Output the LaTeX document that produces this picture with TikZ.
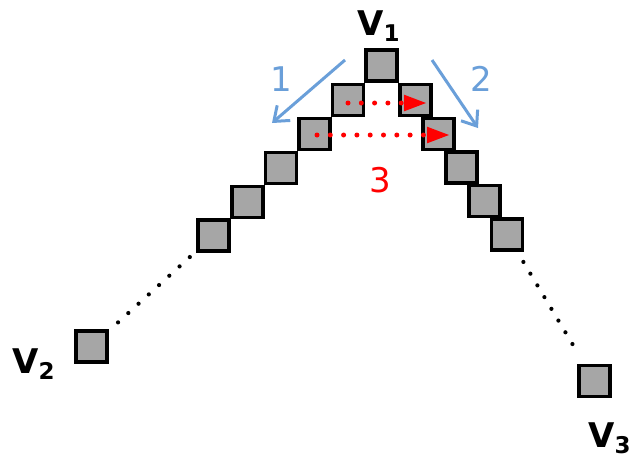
\documentclass[tikz,border=0pt]{standalone}
\usepackage{fontspec}
\setmainfont{DejaVu Sans}
\usetikzlibrary{arrows.meta}
\definecolor{sqgray}{HTML}{A6A6A6}
\definecolor{lblue}{HTML}{6A9FD9}
\definecolor{myred}{HTML}{FF0000}
\tikzset{
  sq/.style={draw=black, line width=3.6pt, fill=sqgray, minimum size=31pt, inner sep=0pt},
  blackdots/.style={line width=4.2pt, line cap=round, dash pattern=on 0pt off #1, black},
  reddots/.style={line width=5pt, line cap=round, dash pattern=on 0pt off 13.3pt, myred, -{Triangle[length=23pt,width=15pt]}},
  bluearrow/.style={line width=3pt, lblue, -{Straight Barb[length=13pt,width=20pt]}},
  numlabel/.style={font=\fontsize{34}{34}\selectfont, inner sep=0pt},
  vlabel/.style={inner sep=0pt, anchor=base west, font=\bfseries}
}
\newcommand{\vlab}[1]{{\fontsize{34}{34}\selectfont V}{\fontsize{23}{23}\selectfont\raisebox{-6pt}{#1}}}
\begin{document}
\begin{tikzpicture}[x=1pt,y=-1pt]
\useasboundingbox (0,0) rectangle (636,459);
% squares
\node[sq] (t)  at (381.5,65.5) {};
\node[sq] (l1) at (348,100) {};
\node[sq] (l2) at (314.5,134) {};
\node[sq] (l3) at (281,168) {};
\node[sq] (l4) at (247.5,202) {};
\node[sq] (l5) at (213.5,235.5) {};
\node[sq] (r1) at (415.5,100) {};
\node[sq] (r2) at (438.5,134) {};
\node[sq] (r3) at (461.5,167.5) {};
\node[sq] (r4) at (484.5,201) {};
\node[sq] (r5) at (507,234.5) {};
\node[sq] (v2) at (91.5,346.5) {};
\node[sq] (v3) at (594.5,381) {};
% labels
\node[vlabel] (lv1) at (357,35) {\vlab{1}};
\node[vlabel] (lv2) at (12,373) {\vlab{2}};
\node[vlabel] (lv3) at (588,447) {\vlab{3}};
% dotted continuation
\draw[blackdots=13.86pt, shorten <=12.5pt, shorten >=8pt] (v2) -- (l5);
\draw[blackdots=13.66pt, shorten <=11.8pt, shorten >=22.4pt] (r5) -- (v3);
% red arrows
\coordinate (a1s) at (348,103);
\coordinate (a1e) at (427,103);
\coordinate (a2s) at (317,135);
\coordinate (a2e) at (450,135);
\draw[reddots] (a1s) -- (a1e);
\draw[reddots] (a2s) -- (a2e);
\node[numlabel, text=myred] (n3) at (380,180) {3};
% blue arrows
\coordinate (b1s) at (345,60);
\coordinate (b1e) at (272,123);
\coordinate (b2s) at (432,60);
\coordinate (b2e) at (478,128);
\draw[bluearrow] (b1s) -- (b1e);
\draw[bluearrow] (b2s) -- (b2e);
\node[numlabel, text=lblue] (n1) at (281,79) {1};
\node[numlabel, text=lblue] (n2) at (481,79) {2};
\end{tikzpicture}
\end{document}
